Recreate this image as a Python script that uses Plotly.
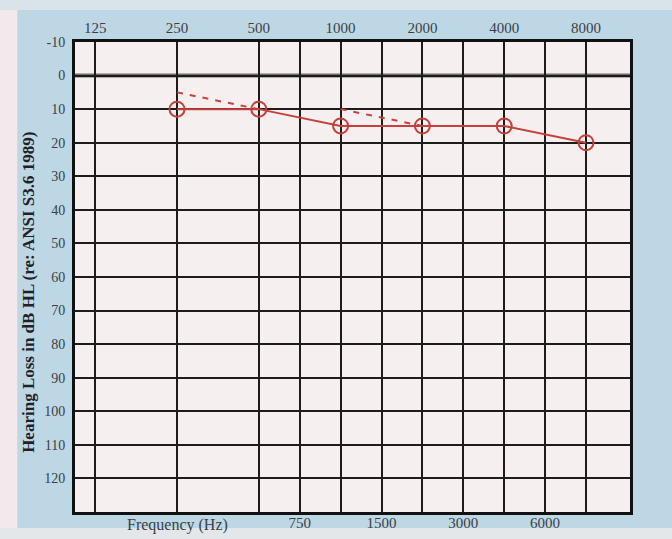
import math
import plotly.graph_objects as go

# --- data ---
freq_major = [125, 250, 500, 1000, 2000, 4000, 8000]
freq_major_labels = ["125", "250", "500", "1000", "2000", "4000", "8000"]
freq_minor_labels = ["750", "1500", "3000", "6000"]
# audiogram forms draw the inter-octave lines at the half-octave positions
freq_minor_pos = [math.sqrt(a * b) for a, b in [(500, 1000), (1000, 2000), (2000, 4000), (4000, 8000)]]
db_ticks = list(range(-10, 121, 10))

ac_freq = [250, 500, 1000, 2000, 4000, 8000]
ac_db = [10, 10, 15, 15, 15, 20]

bc_freq = [250, 500, None, 1000, 2000]
bc_db = [5, 10, None, 10, 15]

RED = "#c6403c"
BG = "#bed7e4"
PLOT_BG = "#f6eff0"
GRID = "#1c1c1c"
TXT = "#3a3f46"
FONT = "Liberation Serif"

fig = go.Figure()

fig.add_trace(go.Scatter(
    x=bc_freq, y=bc_db, mode="lines",
    line=dict(color=RED, width=2, dash="6px,7px"),
    connectgaps=False, showlegend=False, hoverinfo="skip",
))
fig.add_trace(go.Scatter(
    x=ac_freq, y=ac_db, mode="lines+markers",
    line=dict(color=RED, width=2),
    marker=dict(symbol="circle-open", size=15, color=RED, line=dict(width=2, color=RED)),
    showlegend=False,
))
# invisible trace on the bottom axis so it renders
fig.add_trace(go.Scatter(
    x=[freq_minor_pos[0]], y=[db_ticks[0]], xaxis="x2", mode="markers",
    marker=dict(opacity=0), showlegend=False, hoverinfo="skip",
))

xr = [2.0226, 4.065]
fig.update_layout(
    width=672, height=539,
    margin=dict(l=75, r=42, t=42, b=27),
    paper_bgcolor=BG,
    plot_bgcolor=PLOT_BG,
    font=dict(family=FONT, size=14, color=TXT),
    xaxis=dict(
        type="log", range=xr, side="top",
        tickvals=freq_major, ticktext=freq_major_labels,
        showgrid=True, gridcolor=GRID, gridwidth=2,
        showline=True, linecolor="#111111", linewidth=3, mirror=True,
        ticks="", zeroline=False, tickfont=dict(size=15, color=TXT),
        automargin=False,
    ),
    xaxis2=dict(
        type="log", range=xr, side="bottom", overlaying="x", anchor="y",
        tickvals=freq_minor_pos, ticktext=freq_minor_labels,
        showgrid=True, gridcolor=GRID, gridwidth=2,
        showline=False, ticks="", zeroline=False,
        tickfont=dict(size=15, color=TXT), automargin=False,
    ),
    yaxis=dict(
        range=[130, -10], tickvals=db_ticks,
        ticktext=[str(v) for v in db_ticks],
        showgrid=True, gridcolor=GRID, gridwidth=2,
        showline=True, linecolor="#111111", linewidth=3, mirror=True,
        ticks="", zeroline=False, tickfont=dict(size=14, color=TXT),
        ticklabelstandoff=4, automargin=False,
    ),
    annotations=[
        dict(text="Frequency (Hz)", xref="paper", yref="paper", x=0.184, y=-0.004,
             xanchor="center", yanchor="top", showarrow=False,
             font=dict(size=16, color=TXT, family=FONT)),
        dict(text="<b>Hearing Loss in dB HL (re: ANSI S3.6 1989)</b>", xref="paper", yref="paper",
             x=-0.085, y=0.468, xanchor="center", yanchor="middle", textangle=-90,
             showarrow=False, font=dict(size=17, color="#1e2228", family=FONT)),
    ],
    shapes=[
        dict(type="rect", xref="paper", yref="paper", x0=-0.14, x1=-0.104, y0=-0.06, y1=1.1,
             fillcolor="#f1e9ec", line=dict(width=0), layer="below"),
        dict(type="rect", xref="paper", yref="paper", x0=-0.14, x1=1.08, y0=-0.06, y1=-0.034,
             fillcolor="#e4e7ea", line=dict(width=0), layer="below"),
        dict(type="rect", xref="paper", yref="paper", x0=-0.14, x1=1.08, y0=1.068, y1=1.1,
             fillcolor="#d9e4ea", line=dict(width=0), layer="below"),
        dict(type="line", xref="paper", yref="y", x0=0, x1=1, y0=0, y1=0,
             line=dict(color="#6f6f6f", width=4), layer="below"),
    ],
)

fig.write_html("out.html", config={"displayModeBar": False},
               post_script="document.body.style.margin='0';")
